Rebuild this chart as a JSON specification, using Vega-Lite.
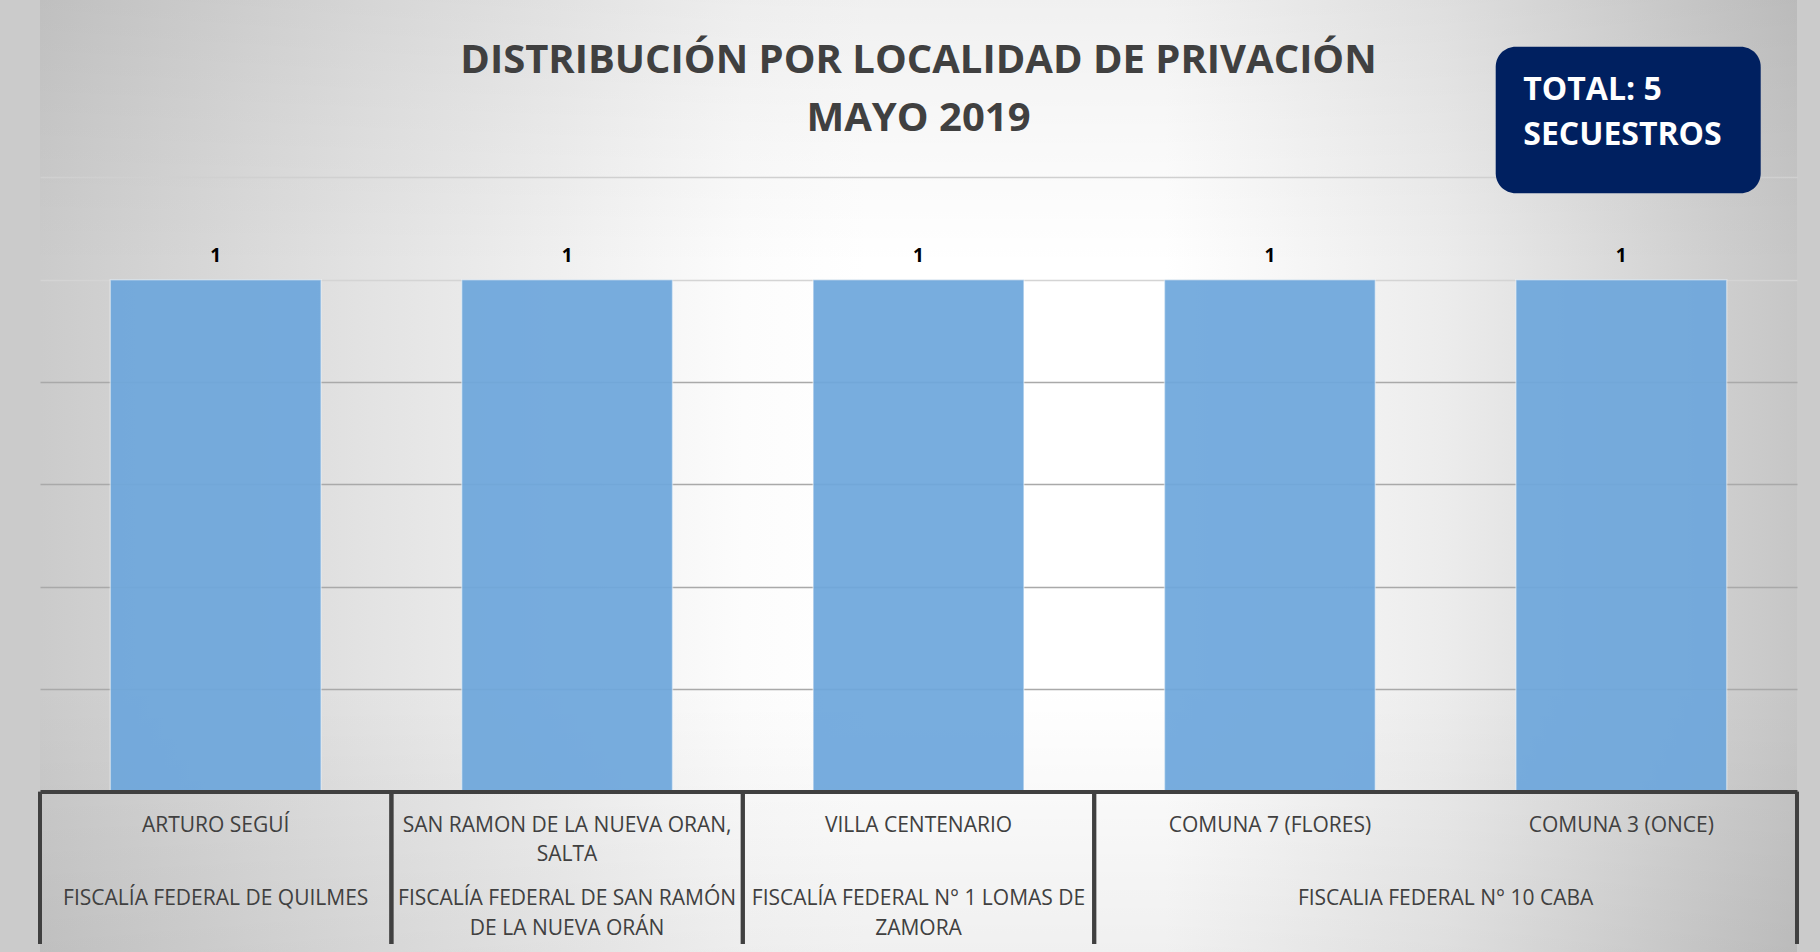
{
  "$schema": "https://vega.github.io/schema/vega-lite/v6.json",
  "width": 1757,
  "height": 952,
  "autosize": {"type": "none"},
  "padding": {"left": 40, "right": 23, "top": 0, "bottom": 0},
  "background": "#cbcbcb",
  "title": {
    "text": ["DISTRIBUCIÓN POR LOCALIDAD DE PRIVACIÓN", "MAYO 2019"],
    "anchor": "middle",
    "orient": "top",
    "offset": -138.5,
    "baseline": "top",
    "font": "Open Sans",
    "fontSize": 40,
    "fontWeight": "bold",
    "color": "#404040",
    "lineHeight": 58
  },
  "datasets": {
    "localidades": [
      {"localidad": "ARTURO SEGUÍ", "secuestros": 1},
      {"localidad": "SAN RAMON DE LA NUEVA ORAN, SALTA", "secuestros": 1},
      {"localidad": "VILLA CENTENARIO", "secuestros": 1},
      {"localidad": "COMUNA 7 (FLORES)", "secuestros": 1},
      {"localidad": "COMUNA 3 (ONCE)", "secuestros": 1}
    ],
    "fiscalias": [
      {"fiscalia": "FISCALÍA FEDERAL DE QUILMES", "primera": "ARTURO SEGUÍ", "ultima": "ARTURO SEGUÍ", "n": 1},
      {"fiscalia": "FISCALÍA FEDERAL DE SAN RAMÓN\nDE LA NUEVA ORÁN", "primera": "SAN RAMON DE LA NUEVA ORAN, SALTA", "ultima": "SAN RAMON DE LA NUEVA ORAN, SALTA", "n": 1},
      {"fiscalia": "FISCALÍA FEDERAL N° 1 LOMAS DE\nZAMORA", "primera": "VILLA CENTENARIO", "ultima": "VILLA CENTENARIO", "n": 1},
      {"fiscalia": "FISCALIA FEDERAL N° 10 CABA", "primera": "COMUNA 7 (FLORES)", "ultima": "COMUNA 3 (ONCE)", "n": 2}
    ],
    "total": [{"etiqueta": "TOTAL: 5\nSECUESTROS"}]
  },
  "layer": [
    {
      "data": {"values": [{}]},
      "mark": {
        "type": "rect",
        "fill": {
          "gradient": "linear", "x1": 0, "y1": 0, "x2": 0, "y2": 1,
          "stops": [
            {"offset": 0, "color": "rgba(0,0,0,0.06)"},
            {"offset": 0.12, "color": "rgba(0,0,0,0.03)"},
            {"offset": 0.28, "color": "rgba(0,0,0,0)"},
            {"offset": 0.72, "color": "rgba(0,0,0,0)"},
            {"offset": 1, "color": "rgba(0,0,0,0.06)"}
          ]
        }
      },
      "encoding": {}
    },
    {
      "data": {"name": "localidades"},
      "mark": {"type": "bar", "width": {"band": 0.6}, "color": "#6ea7dc", "opacity": 0.93, "stroke": "#ffffff", "strokeOpacity": 0.45, "strokeWidth": 1.5},
      "encoding": {
        "x": {
          "field": "localidad", "type": "nominal",
          "scale": {
            "domain": ["ARTURO SEGUÍ", "SAN RAMON DE LA NUEVA ORAN, SALTA", "VILLA CENTENARIO", "COMUNA 7 (FLORES)", "COMUNA 3 (ONCE)"],
            "paddingInner": 0, "paddingOuter": 0
          },
          "axis": {
            "title": null, "orient": "bottom", "offset": -160.4, "zindex": 1,
            "domain": true, "domainColor": "#404040", "domainWidth": 4,
            "ticks": false, "tickSize": 0, "grid": false,
            "labelAngle": 0, "labelPadding": 22.5, "labelBaseline": "top",
            "labelFont": "Open Sans", "labelFontSize": 21, "labelColor": "#404040",
            "labelLimit": 0, "labelOverlap": false, "labelLineHeight": 29,
            "labelExpr": "split(replace(datum.label, ', ', ',|'), '|')"
          }
        },
        "y": {
          "field": "secuestros", "type": "quantitative",
          "scale": {"domain": [-0.3133, 1.5464], "nice": false, "zero": false},
          "axis": {
            "title": null, "values": [0.2, 0.4, 0.6, 0.8, 1.0, 1.2],
            "labels": false, "ticks": false, "domain": false, "grid": true,
            "gridWidth": 1.5,
            "gridColor": {"condition": {"test": "datum.value >= 0.99", "value": "#d4d4d4"}, "value": "#a9a9a9"}
          }
        },
        "y2": {"datum": 0}
      }
    },
    {
      "data": {"name": "localidades"},
      "mark": {"type": "text", "baseline": "alphabetic", "align": "center", "dy": -18, "font": "Open Sans", "fontSize": 19, "fontWeight": "bold", "color": "#000000"},
      "encoding": {
        "x": {"field": "localidad", "type": "nominal", "title": null},
        "y": {"field": "secuestros", "type": "quantitative", "title": null},
        "text": {"field": "secuestros", "type": "quantitative"}
      }
    },
    {
      "data": {"name": "fiscalias"},
      "mark": {"type": "rule", "color": "#404040", "strokeWidth": 4},
      "encoding": {
        "x": {"field": "primera", "type": "nominal", "bandPosition": 0, "title": null},
        "y": {"datum": 0},
        "y2": {"datum": -0.2977}
      }
    },
    {
      "data": {"name": "fiscalias"},
      "mark": {"type": "rule", "color": "#404040", "strokeWidth": 4},
      "encoding": {
        "x": {"field": "ultima", "type": "nominal", "bandPosition": 1, "title": null},
        "y": {"datum": 0},
        "y2": {"datum": -0.2977}
      }
    },
    {
      "data": {"name": "fiscalias"},
      "transform": [{"filter": "datum.n == 1"}],
      "mark": {"type": "text", "align": "center", "baseline": "alphabetic", "font": "Open Sans", "fontSize": 21, "color": "#404040", "lineBreak": "\n", "lineHeight": 30},
      "encoding": {
        "x": {"field": "primera", "type": "nominal", "bandPosition": 0.5, "title": null},
        "y": {"datum": -0.2206},
        "text": {"field": "fiscalia"}
      }
    },
    {
      "data": {"name": "fiscalias"},
      "transform": [{"filter": "datum.n == 2"}],
      "mark": {"type": "text", "align": "center", "baseline": "alphabetic", "font": "Open Sans", "fontSize": 21, "color": "#404040", "lineBreak": "\n", "lineHeight": 30},
      "encoding": {
        "x": {"field": "primera", "type": "nominal", "bandPosition": 1, "title": null},
        "y": {"datum": -0.2206},
        "text": {"field": "fiscalia"}
      }
    },
    {
      "data": {"name": "total"},
      "mark": {"type": "rect", "color": "#002060", "cornerRadius": 20},
      "encoding": {
        "x": {"datum": "COMUNA 3 (ONCE)", "type": "nominal", "bandPosition": 0.1426},
        "x2": {"datum": "COMUNA 3 (ONCE)", "bandPosition": 0.8967},
        "y": {"datum": 1.4552},
        "y2": {"datum": 1.1688}
      }
    },
    {
      "data": {"name": "total"},
      "mark": {"type": "text", "align": "left", "baseline": "alphabetic", "font": "Open Sans", "fontSize": 32, "fontWeight": "bold", "color": "#ffffff", "lineBreak": "\n", "lineHeight": 45},
      "encoding": {
        "x": {"datum": "COMUNA 3 (ONCE)", "type": "nominal", "bandPosition": 0.2211},
        "y": {"datum": 1.351},
        "text": {"field": "etiqueta"}
      }
    }
  ],
  "config": {
    "font": "Open Sans",
    "view": {
      "stroke": null,
      "fill": {
        "gradient": "linear", "x1": 0, "y1": 0, "x2": 1, "y2": 0,
        "stops": [
          {"offset": 0, "color": "#cbcbcb"},
          {"offset": 0.18, "color": "#e2e2e2"},
          {"offset": 0.4, "color": "#fcfcfc"},
          {"offset": 0.47, "color": "#ffffff"},
          {"offset": 0.64, "color": "#ffffff"},
          {"offset": 0.8, "color": "#ececec"},
          {"offset": 1, "color": "#c6c6c6"}
        ]
      }
    }
  }
}
